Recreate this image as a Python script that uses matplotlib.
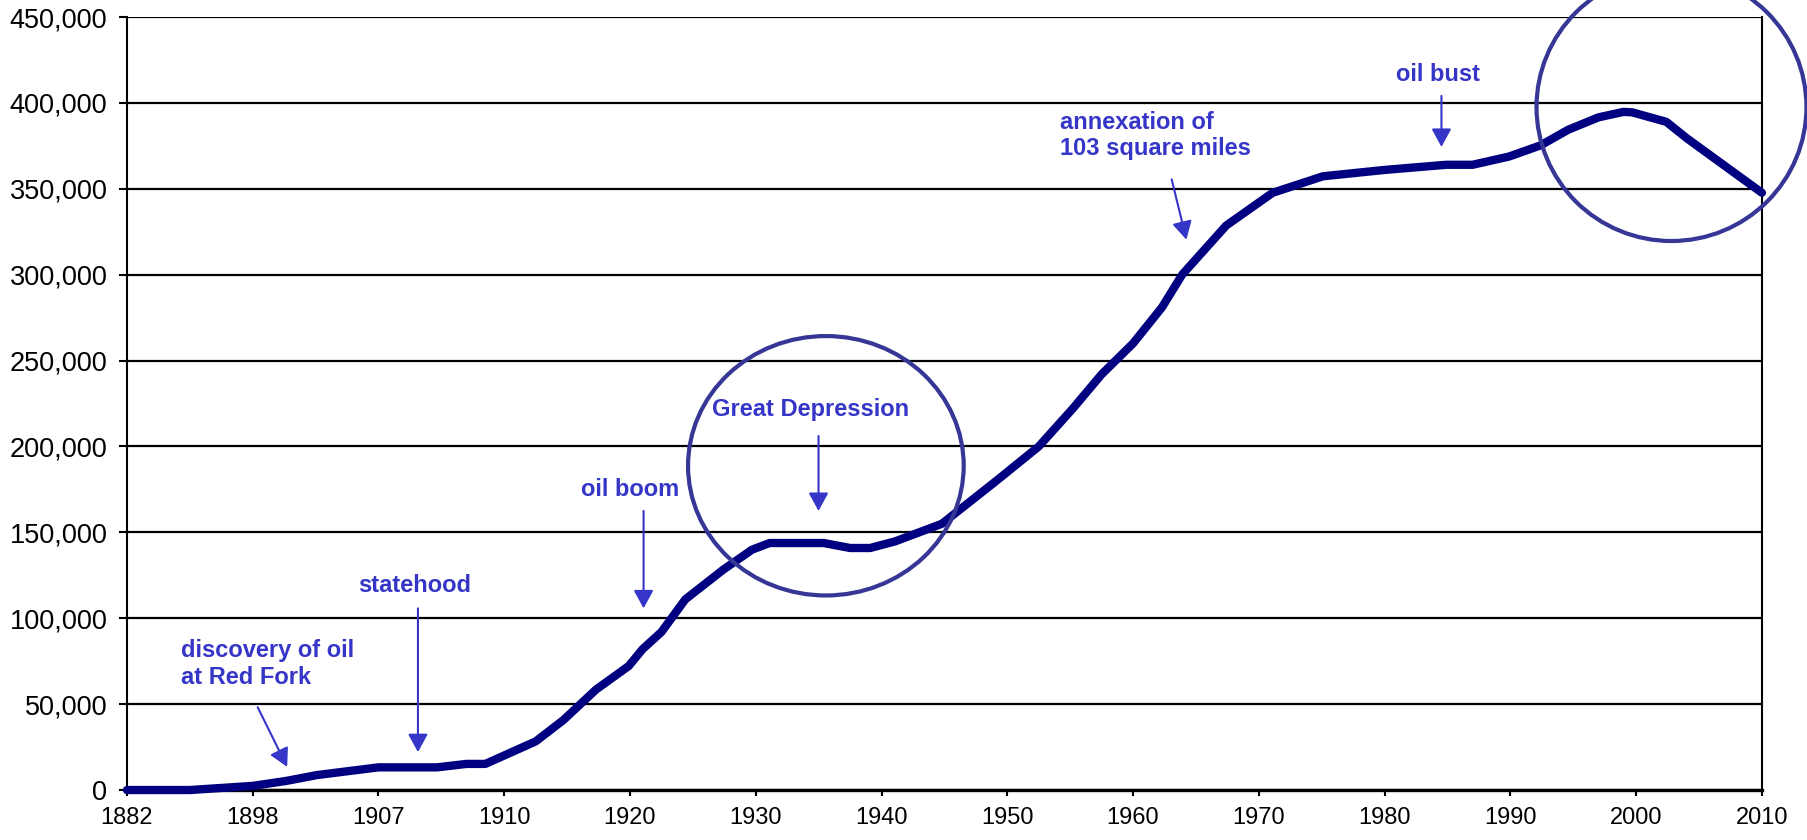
import numpy as np
import matplotlib
matplotlib.use("Agg")
import matplotlib.pyplot as plt
from matplotlib.patches import Ellipse
from matplotlib.ticker import FuncFormatter

# Eje de categorías: etiquetas equiespaciadas (como en el gráfico original)
tick_years = [1882, 1898, 1907, 1910, 1920, 1930, 1940, 1950, 1960, 1970, 1980, 1990, 2000, 2010]
tick_labels = [str(y) for y in tick_years]

# Población
years = [1882, 1890, 1898, 1900.4, 1902.6, 1907, 1908.4, 1909.1, 1909.55, 1912.5,
         1914.7, 1917.3, 1919.9, 1921, 1922.5, 1924.4, 1927.4, 1929.7, 1931.1, 1935.4,
         1937.5, 1939.1, 1941.1, 1944.8, 1947.4, 1949.4, 1952.5, 1955.2, 1957.5, 1960,
         1962.3, 1963.9, 1967.4, 1971.1, 1975.1, 1980, 1984.9, 1987, 1989.9, 1992.4,
         1994.6, 1997, 1999, 1999.7, 2002.4, 2004, 2007.4, 2010]
population = [0, 0, 2400, 5300, 8700, 13200, 13200, 15200, 15200, 28300,
              40700, 58500, 72200, 82000, 92000, 111000, 128200, 139900, 143800, 143800,
              140900, 140900, 144800, 155000, 170000, 181600, 200000, 222000, 242000, 260000,
              281000, 300000, 328600, 347700, 357300, 361000, 364000, 364000, 368800, 375300,
              384400, 391600, 394800, 394500, 389000, 379600, 361500, 347700]

notes = ["discovery of oil\nat Red Fork", "statehood", "oil boom",
         "Great Depression", "annexation of\n103 square miles", "oil bust"]

NOTE_COLOR = "#3535C8"
LINE_COLOR = "#000080"
RING_COLOR = "#363696"

plt.rcParams["font.family"] = ["Liberation Sans", "DejaVu Sans"]

fig = plt.figure(figsize=(18.08, 8.4), dpi=100)
ax = fig.add_axes([0.0702, 0.0595, 0.9043, 0.9202])

# años -> posición en el eje de categorías
x = np.interp(years, tick_years, np.arange(len(tick_years)))
ax.plot(x, population, color=LINE_COLOR, lw=6, solid_joinstyle="round",
        solid_capstyle="round", zorder=4, clip_on=False)

ax.set_xlim(0, len(tick_years) - 1)
ax.set_ylim(0, 450000)
ax.set_xticks(np.arange(len(tick_years)))
ax.set_xticklabels(tick_labels)
ax.set_yticks(np.arange(0, 450001, 50000))
ax.yaxis.set_major_formatter(FuncFormatter(lambda v, p: f"{int(v):,}"))

ax.grid(axis="y", color="black", lw=1.6, zorder=1)
ax.set_axisbelow(True)
for side in ["left", "right"]:
    ax.spines[side].set_linewidth(1.5)
ax.spines["bottom"].set_linewidth(2.4)
ax.spines["top"].set_visible(False)

ax.tick_params(axis="y", labelsize=19.5, length=6, width=1.5, pad=8, direction="out")
ax.tick_params(axis="x", labelsize=17, length=4, width=1.5, pad=8, direction="out")

# anotaciones: (posición del texto, origen y punta de la flecha, alineación)
note_layout = [
    ((0.033, 0.163), (0.080, 0.107), (0.098, 0.030), "left"),
    ((0.176, 0.264), (0.178, 0.235), (0.178, 0.049), "center"),
    ((0.308, 0.389), (0.316, 0.361), (0.316, 0.235), "center"),
    ((0.418, 0.492), (0.423, 0.458), (0.423, 0.361), "center"),
    ((0.571, 0.847), (0.639, 0.790), (0.648, 0.712), "left"),
    ((0.802, 0.926), (0.804, 0.898), (0.804, 0.832), "center"),
]
for label, (tpos, tail, head, ha) in zip(notes, note_layout):
    ax.text(tpos[0], tpos[1], label, transform=ax.transAxes, ha=ha, va="center",
            fontsize=17, fontweight="bold", color=NOTE_COLOR, linespacing=1.2, zorder=6)
    ax.annotate("", xy=head, xytext=tail, xycoords="axes fraction", textcoords="axes fraction",
                arrowprops=dict(arrowstyle="-|>,head_length=0.55,head_width=0.3",
                                mutation_scale=20, color=NOTE_COLOR, lw=1.5,
                                shrinkA=0, shrinkB=0), zorder=6)

# círculos de resalte
for c, w, h in [((0.4275, 0.4195), 0.1686, 0.3356), ((0.9447, 0.8836), 0.1651, 0.3467)]:
    ax.add_patch(Ellipse(c, w, h, transform=ax.transAxes, fill=False,
                         edgecolor=RING_COLOR, lw=3, zorder=5, clip_on=False))

fig.savefig("out.png", dpi=100)
